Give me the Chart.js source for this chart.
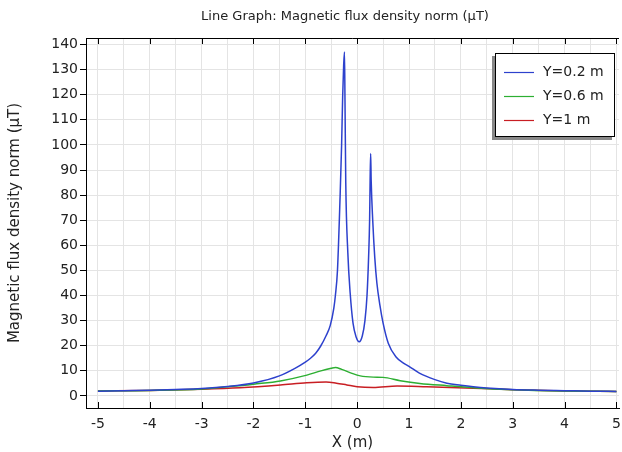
<!DOCTYPE html>
<html>
<head>
<meta charset="utf-8">
<script src="https://cdn.jsdelivr.net/npm/chart.js@4/dist/chart.umd.min.js"></script>
<style>
  html, body { margin: 0; padding: 0; background: #fff; }
  #wrap { width: 622px; height: 452px; }
</style>
</head>
<body>
<div id="wrap"><canvas id="graph" width="622" height="452"></canvas></div>
<script>
// valeurs (X en m, B en µT)
const xY02 = [-5, -4.5, -4, -3.5, -3, -2.5, -2, -1.5, -1.2, -1.0, -0.9, -0.8, -0.7, -0.6, -0.52, -0.45, -0.42, -0.38, -0.33, -0.3, -0.28, -0.26, -0.245, -0.235, -0.22, -0.18, -0.135, -0.08, -0.02, 0.04, 0.1, 0.15, 0.19, 0.22, 0.24, 0.25, 0.26, 0.27, 0.3, 0.34, 0.38, 0.44, 0.5, 0.6, 0.75, 0.9, 1.0, 1.2, 1.5, 1.73, 2, 2.24, 2.5, 3, 3.5, 4, 4.5, 5];
const bY02 = [1.9, 2.1, 2.3, 2.6, 3.0, 3.8, 5.2, 8.0, 11, 13.5, 15, 17, 20, 24, 28, 35, 40, 50, 79, 100, 119, 132, 137, 118, 85, 57, 41, 29, 23.5, 21.6, 24, 30, 40, 55, 70, 86, 96.6, 86, 70, 55, 45, 36, 29, 21, 15.5, 13, 11.8, 9.1, 6.5, 5.1, 4.3, 3.7, 3.2, 2.6, 2.3, 2.1, 1.9, 1.8];

const xY06 = [-5, -4, -3, -2.26, -2, -1.48, -0.97, -0.7, -0.5, -0.42, -0.3, -0.1, 0.06, 0.31, 0.5, 0.83, 1.21, 1.73, 2.24, 3, 4, 5];
const bY06 = [2.0, 2.2, 2.8, 4.1, 4.7, 6.0, 8.3, 10.0, 11.0, 11.3, 10.6, 9.0, 8.0, 7.5, 7.4, 6.1, 5.0, 4.1, 3.3, 2.5, 2.0, 1.8];

const xY1 = [-5, -4, -3, -2.26, -1.48, -0.97, -0.6, -0.4, -0.2, 0.0, 0.31, 0.77, 1.34, 2.24, 3, 4, 5];
const bY1 = [2.0, 2.2, 2.7, 3.3, 4.4, 5.3, 5.6, 5.1, 4.4, 3.7, 3.4, 4.0, 3.7, 3.1, 2.5, 2.0, 1.8];

const seriesLabels = ["Y=0.2 m", "Y=0.6 m", "Y=1 m"];
const xTicks = [-5, -4, -3, -2, -1, 0, 1, 2, 3, 4, 5];
const xGrid = [-5, -4.5, -4, -3.5, -3, -2.5, -2, -1.5, -1, -0.5, 0, 0.5, 1, 1.5, 2, 2.5, 3, 3.5, 4, 4.5, 5];
const yTicks = [0, 10, 20, 30, 40, 50, 60, 70, 80, 90, 100, 110, 120, 130, 140];

const police = "'DejaVu Sans', sans-serif";

function points(xs, ys) {
    return xs.map((x, i) => ({ x: x, y: ys[i] }));
}

// cadre, petites graduations, titre et légende façon COMSOL
const decor = {
    id: "decor",
    afterDraw(chart) {
        const ctx = chart.ctx;
        const a = chart.chartArea;
        const sx = chart.scales.x;
        ctx.save();
        ctx.strokeStyle = "#000";
        ctx.lineWidth = 1;
        ctx.beginPath();
        ctx.moveTo(a.left + 0.5, a.bottom + 0.5);
        ctx.lineTo(a.left + 0.5, a.top + 0.5);
        ctx.lineTo(a.right, a.top + 0.5);
        ctx.stroke();
        ctx.beginPath();
        xTicks.forEach(v => {
            const px = Math.round(sx.getPixelForValue(v)) + 0.5;
            ctx.moveTo(px, a.bottom);
            ctx.lineTo(px, a.bottom - 6);
            ctx.moveTo(px, a.top);
            ctx.lineTo(px, a.top + 6);
        });
        ctx.stroke();

        ctx.fillStyle = "#222";
        ctx.font = "13px " + police;
        ctx.textAlign = "center";
        ctx.textBaseline = "middle";
        ctx.fillText("Line Graph: Magnetic flux density norm (µT)", 345, 17);

        // légende
        const lx = 495, ly = 53, lw = 120, lh = 84;
        ctx.fillStyle = "#888";
        ctx.fillRect(lx - 3, ly + 3, lw, lh);
        ctx.fillStyle = "#fff";
        ctx.fillRect(lx, ly, lw, lh);
        ctx.strokeStyle = "#000";
        ctx.strokeRect(lx + 0.5, ly + 0.5, lw - 1, lh - 1);
        ctx.textAlign = "left";
        ctx.font = "14px " + police;
        chart.data.datasets.forEach((ds, i) => {
            const yy = 72 + i * 24;
            ctx.strokeStyle = ds.borderColor;
            ctx.lineWidth = 1.2;
            ctx.beginPath();
            ctx.moveTo(504, yy + 0.5);
            ctx.lineTo(534, yy + 0.5);
            ctx.stroke();
            ctx.fillStyle = "#222";
            ctx.fillText(ds.label, 543, yy);
        });
        ctx.restore();
    }
};

new Chart(document.getElementById("graph"), {
    type: "line",
    data: {
        datasets: [
            { label: seriesLabels[0], data: points(xY02, bY02), borderColor: "rgb(45,65,205)" },
            { label: seriesLabels[1], data: points(xY06, bY06), borderColor: "rgb(45,175,50)" },
            { label: seriesLabels[2], data: points(xY1, bY1), borderColor: "rgb(200,30,35)" }
        ]
    },
    options: {
        responsive: false,
        animation: false,
        layout: { padding: { top: 38, right: 3, left: 0, bottom: 0 } },
        elements: {
            point: { radius: 0 },
            line: { borderWidth: 1.5, cubicInterpolationMode: "monotone" }
        },
        plugins: {
            legend: { display: false },
            title: { display: false },
            tooltip: { enabled: false }
        },
        scales: {
            x: {
                type: "linear",
                min: -5.23,
                max: 5.05,
                afterBuildTicks: scale => { scale.ticks = xGrid.map(v => ({ value: v })); },
                afterFit: scale => {
                    scale.height = 44;
                    scale.paddingLeft = 0;
                    scale.paddingRight = 0;
                },
                ticks: {
                    autoSkip: false,
                    maxRotation: 0,
                    padding: 8,
                    color: "#222",
                    font: { family: police, size: 14 },
                    callback: v => (Number.isInteger(v) ? String(v) : "")
                },
                grid: { color: "#e4e4e4", drawTicks: false },
                border: { color: "#000" },
                title: {
                    display: true,
                    text: "X (m)",
                    color: "#222",
                    font: { family: police, size: 15 },
                    padding: { top: 0, bottom: 0 }
                }
            },
            y: {
                type: "linear",
                min: -4.8,
                max: 142.6,
                afterBuildTicks: scale => { scale.ticks = yTicks.map(v => ({ value: v })); },
                afterFit: scale => {
                    scale.width = 86;
                    scale.paddingTop = 0;
                    scale.paddingBottom = 0;
                },
                ticks: {
                    padding: 2,
                    color: "#222",
                    font: { family: police, size: 14 }
                },
                grid: { color: "#e4e4e4", tickColor: "#000", tickLength: 6 },
                border: { color: "#000" },
                title: {
                    display: true,
                    text: "Magnetic flux density norm (µT)",
                    color: "#222",
                    font: { family: police, size: 15 },
                    padding: { top: 6, bottom: 8 }
                }
            }
        }
    },
    plugins: [decor]
});
</script>
</body>
</html>
